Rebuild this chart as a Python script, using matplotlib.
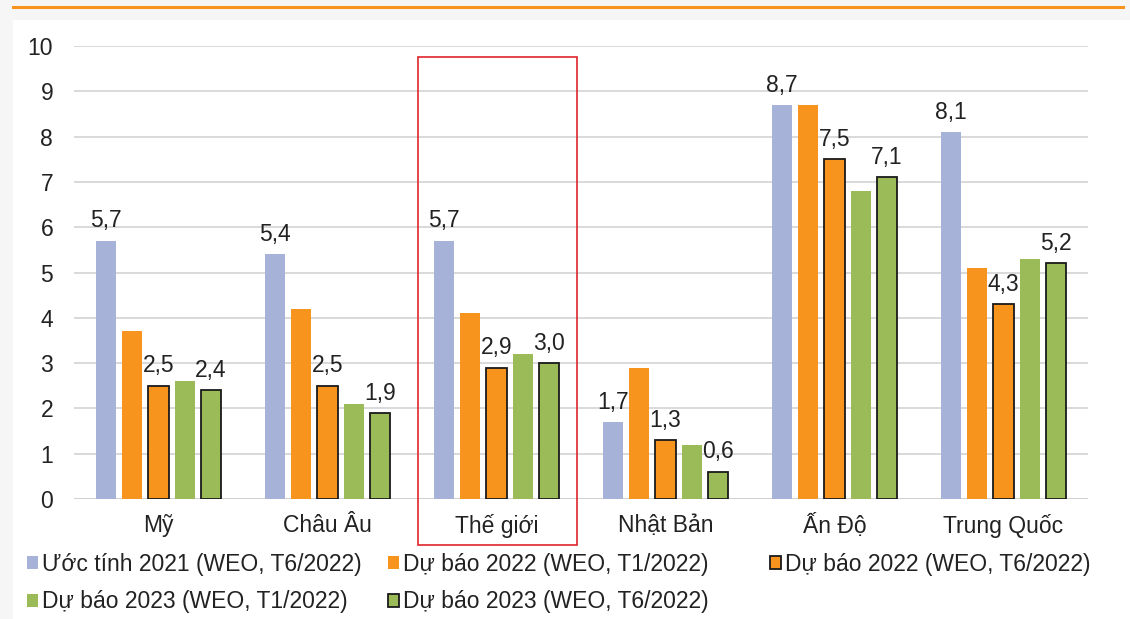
import matplotlib.pyplot as plt
import numpy as np
from matplotlib.patches import Rectangle
from matplotlib.lines import Line2D

plt.rcParams["font.family"] = ["Liberation Sans", "DejaVu Sans"]

regions = ["Mỹ", "Châu Âu", "Thế giới", "Nhật Bản", "Ấn Độ", "Trung Quốc"]
series_names = [
    "Ước tính 2021 (WEO, T6/2022)",
    "Dự báo 2022 (WEO, T1/2022)",
    "Dự báo 2022 (WEO, T6/2022)",
    "Dự báo 2023 (WEO, T1/2022)",
    "Dự báo 2023 (WEO, T6/2022)",
]
est_2021 = [5.7, 5.4, 5.7, 1.7, 8.7, 8.1]
fc_2022_t1 = [3.7, 4.2, 4.1, 2.9, 8.7, 5.1]
fc_2022_t6 = [2.5, 2.5, 2.9, 1.3, 7.5, 4.3]
fc_2023_t1 = [2.6, 2.1, 3.2, 1.2, 6.8, 5.3]
fc_2023_t6 = [2.4, 1.9, 3.0, 0.6, 7.1, 5.2]

series = [est_2021, fc_2022_t1, fc_2022_t6, fc_2023_t1, fc_2023_t6]
colors = ["#A6B2D8", "#F7941E", "#F7941E", "#9BBB59", "#9BBB59"]
edged = [False, False, True, False, True]
labelled = [True, False, True, False, True]

FS = 16.5
W, H = 1130, 619

fig = plt.figure(figsize=(11.3, 6.19), dpi=100)
fig.patch.set_facecolor("#F6F6F6")
# white card behind the chart
fig.patches.append(Rectangle((13 / W, 0), 1 - 13 / W, 1 - 20 / H,
                             transform=fig.transFigure, facecolor="white",
                             edgecolor="none", zorder=-10))
ax = fig.add_axes([74 / W, 1 - 499 / H, 1014 / W, 453 / H])
ax.patch.set_alpha(0)

x = np.arange(len(regions))
step = 0.155
width = 0.12
handles = []
for i, (vals, col) in enumerate(zip(series, colors)):
    pos = x + (i - 2) * step
    if edged[i]:
        bars = ax.bar(pos, vals, width, color=col, edgecolor="#1a1a1a",
                      linewidth=1.3, zorder=3)
    else:
        bars = ax.bar(pos, vals, width, color=col, linewidth=0, zorder=3)
    handles.append(bars)
    if labelled[i]:
        for xp, v in zip(pos, vals):
            ax.annotate(f"{v:.1f}".replace(".", ","), (xp, v),
                        xytext=(0, 6), textcoords="offset points",
                        ha="center", va="bottom", fontsize=FS,
                        color="#222222")

ax.set_xlim(-0.5, len(regions) - 0.5)
ax.set_ylim(0, 10)
ax.set_yticks(range(0, 11))
ax.set_xticks(x, regions)
ax.grid(axis="y", color="#D9D9D9", linewidth=1.4, zorder=0)
ax.set_axisbelow(True)
for s in ax.spines.values():
    s.set_visible(False)
ax.axhline(0, color="#D0D0D0", linewidth=1.4, zorder=2)
ax.tick_params(axis="both", length=0, labelsize=FS, colors="#222222")
ax.tick_params(axis="y", pad=15)
ax.tick_params(axis="x", pad=11)

# legend laid out as three columns, filled row by row
columns = [([0, 3], 27), ([1, 4], 388), ([2], 770)]
for idx, left_px in columns:
    leg = fig.legend([handles[k] for k in idx], [series_names[k] for k in idx],
                     loc="upper left", bbox_to_anchor=(left_px / W, 1 - 553 / H),
                     frameon=False, fontsize=FS, handlelength=0.5,
                     handleheight=0.5, handletextpad=0.15, labelspacing=0.62,
                     borderaxespad=0, borderpad=0)
    for t in leg.get_texts():
        t.set_color("#222222")

# red highlight box around "Thế giới"
fig.patches.append(Rectangle((418 / W, 1 - 545 / H), 159 / W, 488 / H,
                             transform=fig.transFigure, fill=False,
                             edgecolor="#E0252B", linewidth=1.2, zorder=5))
# orange rule at top
fig.lines.append(Line2D([13 / W, 1123 / W], [1 - 7 / H, 1 - 7 / H],
                        transform=fig.transFigure, color="#F7941E",
                        linewidth=2.2))

fig.savefig("out.png", dpi=100, facecolor=fig.get_facecolor())
